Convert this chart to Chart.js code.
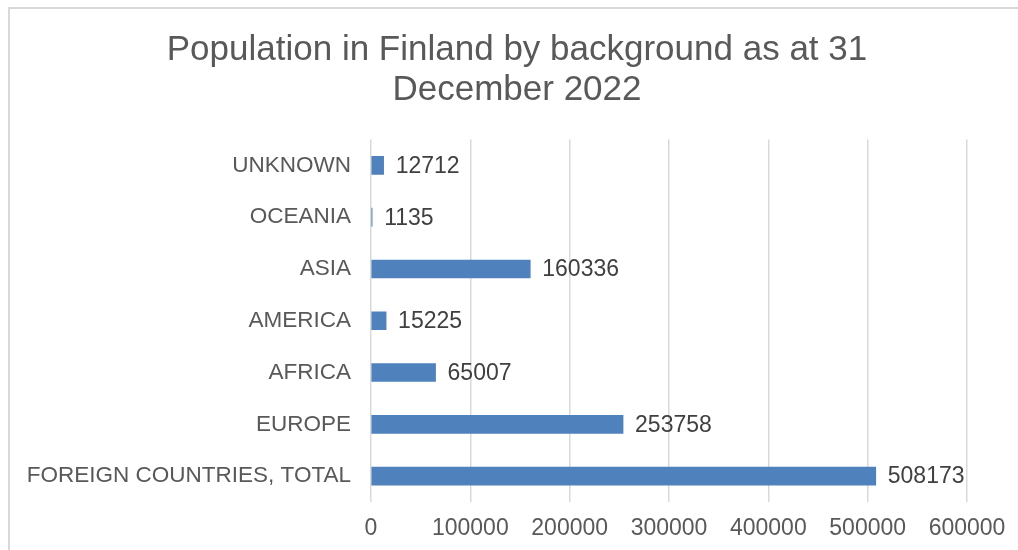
<!DOCTYPE html>
<html>
<head>
<meta charset="utf-8">
<script src="https://cdn.jsdelivr.net/npm/chart.js@4/dist/chart.umd.min.js"></script>
<style>
  html, body { margin: 0; padding: 0; background: #fff; overflow: hidden; }
  #frame { position: absolute; left: 8px; top: 7px; width: 1100px; height: 600px; border: 2px solid #d9d9d9; }
  /* the chart box runs a little past the right edge of the window */
  #wrap { position: absolute; left: 0; top: 0; width: 1034px; height: 550px; }
</style>
</head>
<body>
<div id="frame"></div>
<div id="wrap"><canvas id="chart"></canvas></div>
<script>
// regions of origin, listed top to bottom
const regions = ['UNKNOWN', 'OCEANIA', 'ASIA', 'AMERICA', 'AFRICA', 'EUROPE', 'FOREIGN COUNTRIES, TOTAL'];
const population = [12712, 1135, 160336, 15225, 65007, 253758, 508173];
const titleLines = ['Population in Finland by background as at 31', 'December 2022'];
const xMax = 600000;
const xStep = 100000;

const textGrey = '#595959';
const font = 'Liberation Sans, Arial, sans-serif';

// writes the value just past the end of each bar
const valueLabels = {
    id: 'valueLabels',
    afterDatasetsDraw(chart) {
        const ctx = chart.ctx;
        const meta = chart.getDatasetMeta(0);
        ctx.save();
        ctx.font = '23px ' + font;
        ctx.fillStyle = '#404040';
        ctx.textAlign = 'left';
        ctx.textBaseline = 'middle';
        meta.data.forEach((bar, i) => {
            ctx.fillText(String(population[i]), bar.x + 12, bar.y + 1);
        });
        ctx.restore();
    }
};

new Chart(document.getElementById('chart'), {
    type: 'bar',
    data: {
        labels: regions,
        datasets: [{
            data: population,
            backgroundColor: '#4f81bd',
            borderWidth: 0,
            barThickness: 18
        }]
    },
    options: {
        indexAxis: 'y',
        responsive: true,
        maintainAspectRatio: false,
        animation: false,
        layout: { padding: 0 },
        plugins: {
            legend: { display: false },
            tooltip: { enabled: false },
            title: {
                display: true,
                text: titleLines,
                color: textGrey,
                font: { family: font, size: 35, weight: 'normal', lineHeight: 1.15 },
                padding: { top: 30, bottom: 29 }
            }
        },
        scales: {
            x: {
                min: 0,
                max: xMax,
                ticks: {
                    stepSize: xStep,
                    color: textGrey,
                    padding: 13,
                    font: { family: font, size: 23 },
                    callback: (v) => String(v)
                },
                grid: { color: '#d9d9d9', lineWidth: 1.5, drawTicks: false },
                border: { display: false },
                afterFit(scale) { scale.height = 48; }
            },
            y: {
                ticks: {
                    color: textGrey,
                    padding: 20,
                    font: { family: font, size: 22.5 }
                },
                grid: { display: false, drawTicks: false },
                border: { display: false },
                afterFit(scale) { scale.width = 371; }
            },
            // empty strip on the right that leaves room for the value labels
            gutter: {
                type: 'linear',
                axis: 'y',
                position: 'right',
                ticks: { display: false },
                grid: { display: false, drawTicks: false },
                border: { display: false },
                afterFit(scale) { scale.width = 67; }
            }
        }
    },
    plugins: [valueLabels]
});
</script>
</body>
</html>
